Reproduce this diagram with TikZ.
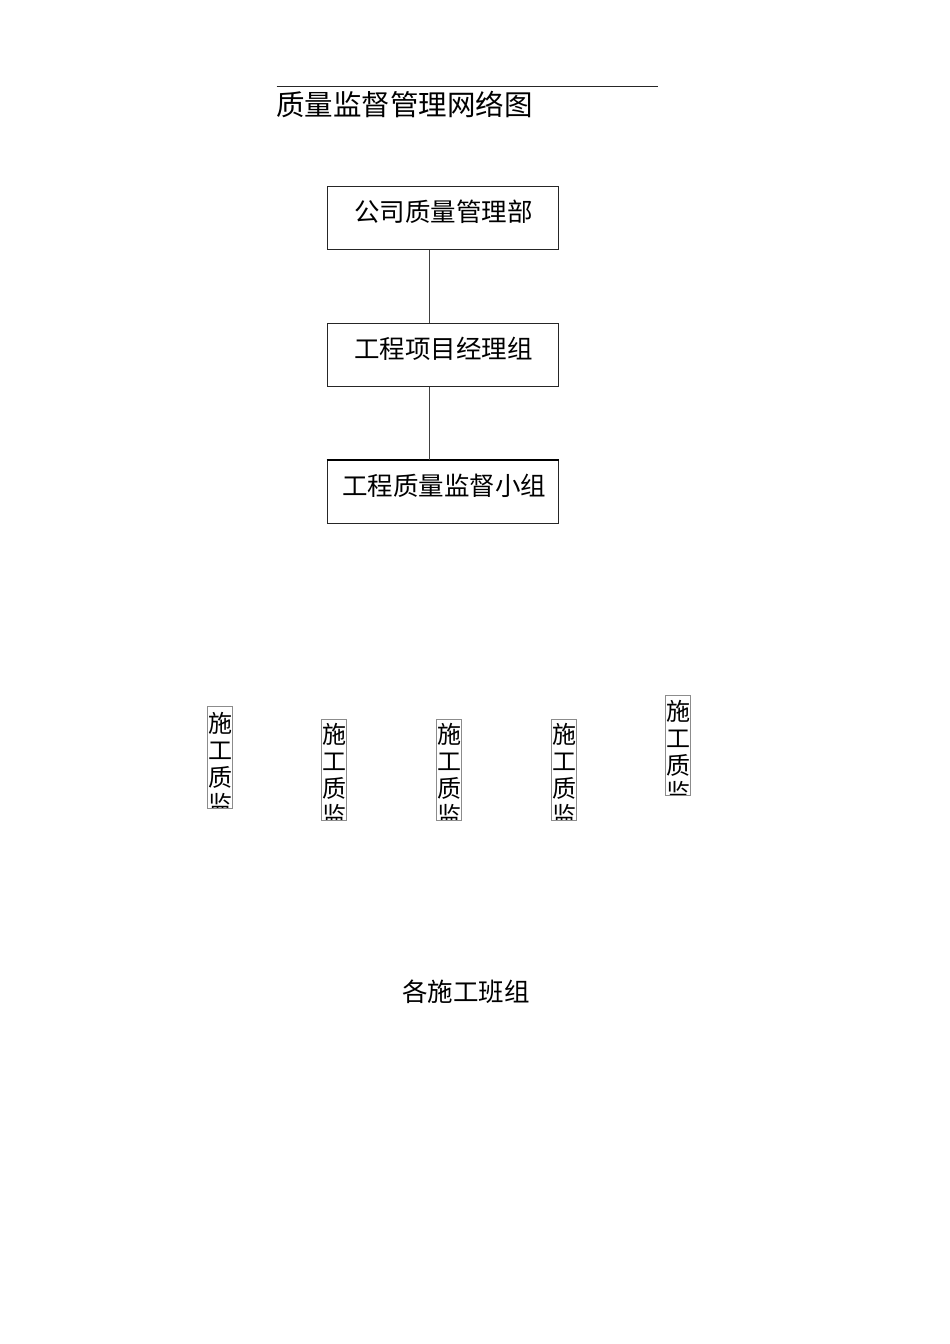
\documentclass[tikz,border=0pt]{standalone}
\usepackage{fontspec}
\newfontfamily\cjk{Noto Sans CJK SC}
\begin{document}
\begin{tikzpicture}[x=1pt,y=-1pt,
  bigbox/.style={draw=black!85,line width=1pt,minimum width=231pt,minimum height=63pt,inner sep=0pt},
  bigtext/.style={font=\cjk\fontsize{25.5}{30}\selectfont,anchor=base,inner sep=0pt},
  titletext/.style={font=\cjk\fontsize{28.5}{32}\selectfont,anchor=base west,inner sep=0pt},
  smallbox/.style={draw=black!45,line width=1pt,minimum width=25pt,inner sep=0pt},
  vchar/.style={font=\cjk\fontsize{24}{27}\selectfont,anchor=base,inner sep=0pt},
  link/.style={draw=black!75,line width=1pt}]
\useasboundingbox[fill=white] (0,0) rectangle (950,1344);
% title
\coordinate (tl) at (276.7,86);
\coordinate (tr) at (658.3,86);
\draw[line width=1pt,black!85] (tl) -- (tr);
\node[titletext] (title) at (276,115) {质量监督管理网络图};
% boxes
\node[bigbox] (b1) at (442.5,218) {};
\node[bigbox] (b2) at (442.5,355) {};
\node[bigbox] (b3) at (442.5,492) {};
\draw[line width=2.2pt,black] (b3.north west) -- (b3.north east);
\node[bigtext] (t1) at (443.5,221) {公司质量管理部};
\node[bigtext] (t2) at (443.5,358.5) {工程项目经理组};
\node[bigtext] (t3) at (444,495) {工程质量监督小组};
\draw[link] ([xshift=-13.5pt]b1.south) -- ([xshift=-13.5pt]b2.north);
\draw[link] ([xshift=-13.5pt]b2.south) -- ([xshift=-13.5pt]b3.north);
% small vertical boxes
\foreach \n/\cx/\top/\bot/\base in {1/220.3/706/808/732, 2/334.2/719.3/820/743.5, 3/449.3/719.3/820/743.5, 4/564/719.3/820/743.5, 5/678.3/695/795.3/720}{
  \node[smallbox,minimum height={\bot-\top}] (s\n) at (\cx,{(\top+\bot)/2}) {};
  \begin{scope}
    \clip (s\n.south west) rectangle (s\n.north east);
    \node[vchar] (s\n a) at (\cx,\base) {施};
    \node[vchar] (s\n b) at (\cx,\base+27) {工};
    \node[vchar] (s\n c) at (\cx,\base+54) {质};
    \node[vchar] (s\n d) at (\cx,\base+81) {监};
  \end{scope}
  \node[smallbox,minimum height={\bot-\top}] at (\cx,{(\top+\bot)/2}) {};
}
% bottom label
\node[bigtext] (teams) at (466,1001) {各施工班组};
\end{tikzpicture}
\end{document}
